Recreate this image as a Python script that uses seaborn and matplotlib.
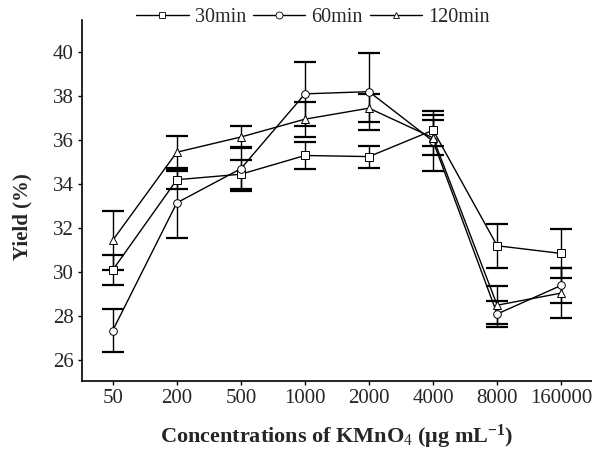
import matplotlib
matplotlib.use("Agg")
import matplotlib.pyplot as plt
import seaborn as sns
import pandas as pd
import numpy as np
from matplotlib.lines import Line2D

concentrations = ["50", "200", "500", "1000", "2000", "4000", "8000", "160000"]
series_names = ["30min", "60min", "120min"]
yield_30 = [30.1, 34.2, 34.45, 35.3, 35.25, 36.45, 31.2, 30.85]
err_30 = [0.7, 0.4, 0.65, 0.6, 0.5, 0.7, 1.0, 1.1]
yield_60 = [27.35, 33.15, 34.7, 38.1, 38.2, 35.95, 28.1, 29.4]
err_60 = [0.97, 1.6, 1.0, 1.45, 1.75, 1.35, 0.6, 0.8]
yield_120 = [31.45, 35.45, 36.14, 36.95, 37.45, 36.1, 28.5, 29.05]
err_120 = [1.35, 0.75, 0.5, 0.8, 0.65, 0.8, 0.85, 1.15]

sns.set_theme(style="ticks")
plt.rcParams['font.family'] = ['Liberation Serif', 'DejaVu Serif']
plt.rcParams['mathtext.fontset'] = 'custom'
plt.rcParams['mathtext.rm'] = 'Liberation Serif'
plt.rcParams['mathtext.bf'] = 'Liberation Serif:bold'
plt.rcParams['mathtext.it'] = 'Liberation Serif:italic'

rows = []
for name, ys, es in zip(series_names, [yield_30, yield_60, yield_120], [err_30, err_60, err_120]):
    for i, (c, y, e) in enumerate(zip(concentrations, ys, es)):
        rows.append({"pos": i, "conc": c, "yield": y, "err": e, "time": name})
df = pd.DataFrame(rows)

fig = plt.figure(figsize=(5.92, 4.57), dpi=100)
ax = fig.add_axes([0.1385, 0.166, 0.8615, 0.79])

markers = {"30min": "s", "60min": "o", "120min": "^"}
for name in series_names:
    sub = df[df["time"] == name]
    ax.errorbar(sub["pos"], sub["yield"], yerr=sub["err"], fmt="none", ecolor="black",
                elinewidth=1.0, capsize=8, capthick=1.6, zorder=2)

sns.lineplot(data=df, x="pos", y="yield", style="time", markers=markers, dashes=False,
             color="black", linewidth=1.0, markersize=5.5, markerfacecolor="white",
             markeredgecolor="black", markeredgewidth=0.7, legend=False, ax=ax, zorder=3,
             errorbar=None)

ax.set_xlim(-0.48, 7.48)
ax.set_ylim(25.05, 41.45)
ax.set_xticks(range(len(concentrations)))
ax.set_xticklabels(concentrations)
ax.set_yticks([26, 28, 30, 32, 34, 36, 38, 40])
ax.tick_params(axis="both", labelsize=15, direction="out", length=3, width=1, color="black", pad=3)
for s in ["top", "right"]:
    ax.spines[s].set_visible(False)
for s in ["left", "bottom"]:
    ax.spines[s].set_linewidth(1.2)
    ax.spines[s].set_color("black")

ax.set_ylabel("Yield (%)", fontsize=15, fontweight="bold")
ax.yaxis.set_label_coords(-0.098, 0.457)
ax.set_xlabel(r"Concentrations of KMnO$_{4}$ ($\mathbf{\mu}$g mL$^{\mathbf{-1}}$)",
              fontsize=16, fontweight="bold", labelpad=10)

handles = [Line2D([0], [0], color="black", lw=1.0, marker=markers[n], markersize=5,
                  markerfacecolor="white", markeredgecolor="black", markeredgewidth=0.6)
           for n in series_names]
ax.legend(handles, series_names, loc="center", bbox_to_anchor=(0.453, 1.008), ncol=3,
          frameon=False, fontsize=14.5, handlelength=2.6, handletextpad=0.3,
          columnspacing=0.35)

fig.savefig("out.png", dpi=100)
